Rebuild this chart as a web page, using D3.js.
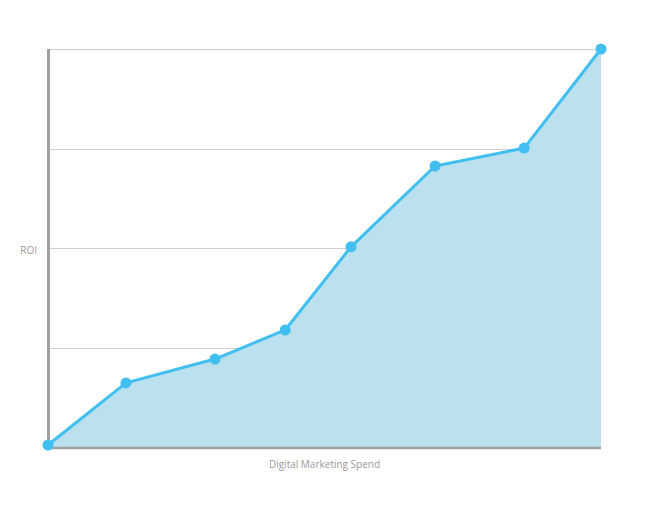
<!DOCTYPE html>
<html><head><meta charset="utf-8">
<script src="https://cdn.jsdelivr.net/npm/d3@7"></script>
<style>body{margin:0;background:#fff}svg{display:block}</style>
</head><body><svg id="c" width="650" height="509"></svg>
<script>
const spend = [0, 14.1, 30.2, 42.9, 54.8, 70.0, 86.1, 100];
const roi = [0.5, 16.1, 22.1, 29.4, 50.3, 70.6, 75.1, 100];
const yTicks = [0, 25, 50, 75, 100];
const xLabel = "Digital Marketing Spend";
const yLabel = "ROI";

(function () {
const data = spend.map((s, i) => ({x: s, y: roi[i]}));
const svg = d3.select("#c");
const mL = 48, mR = 601, mT = 49, mB = 447;
const x = d3.scaleLinear().domain([0, 100]).range([mL, mR]);
const y = d3.scaleLinear().domain([0, 100]).range([mB, mT]);

// grid
svg.append("g").selectAll("line").data(yTicks).join("line")
  .attr("x1", mL).attr("x2", mR)
  .attr("y1", d => Math.round(y(d)) + 0.5).attr("y2", d => Math.round(y(d)) + 0.5)
  .attr("stroke", "#d0d0d0").attr("stroke-width", 1);

// area
svg.append("path").datum(data)
  .attr("d", d3.area().x(d => x(d.x)).y0(y(0)).y1(d => y(d.y)))
  .attr("fill", "#bbe0ee");

// axes lines
svg.append("line").attr("x1", mL).attr("x2", mR).attr("y1", 448).attr("y2", 448)
  .attr("stroke", "#a0a0a0").attr("stroke-width", 2.5);
svg.append("line").attr("x1", 48.5).attr("x2", 48.5).attr("y1", mT).attr("y2", 449)
  .attr("stroke", "#a0a0a0").attr("stroke-width", 3);

// line
svg.append("path").datum(data)
  .attr("d", d3.line().x(d => x(d.x)).y(d => y(d.y)))
  .attr("fill", "none").attr("stroke", "#40bff0").attr("stroke-width", 3)
  .attr("stroke-linejoin", "round");

// points
svg.append("g").selectAll("circle").data(data).join("circle")
  .attr("cx", d => x(d.x)).attr("cy", d => y(d.y)).attr("r", 5.5)
  .attr("fill", "#40bff0");

// labels
svg.append("text").attr("x", 37).attr("y", 253.5).attr("text-anchor", "end")
  .attr("font-family", "Open Sans, sans-serif").attr("font-size", 10)
  .attr("fill", "#999").text(yLabel);
svg.append("text").attr("x", (mL + mR) / 2).attr("y", 467.5).attr("text-anchor", "middle")
  .attr("font-family", "Open Sans, sans-serif").attr("font-size", 10)
  .attr("fill", "#999").text(xLabel);
})();
</script></body></html>
